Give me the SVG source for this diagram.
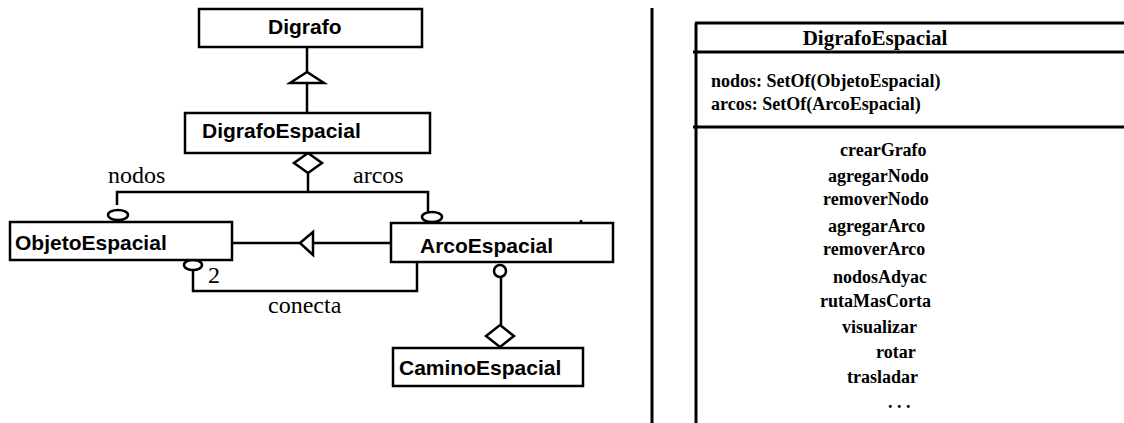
<svg xmlns="http://www.w3.org/2000/svg" width="1124" height="423" viewBox="0 0 1124 423">
  <style>
    .box { fill: #fff; stroke: #000; stroke-width: 2.5; }
    .cls { font-family: "Liberation Sans", Arial, sans-serif; font-weight: bold; font-size: 21px; fill: #000; }
    .lbl { font-family: "Liberation Serif", "Times New Roman", serif; font-size: 24px; fill: #000; }
    .ln { fill: none; stroke: #000; stroke-width: 2.5; }
    .hollow { fill: #fff; stroke: #000; stroke-width: 2.5; }
    .ser { font-family: "Liberation Serif", "Times New Roman", serif; font-weight: bold; fill: #000; }
    .sep { stroke: #000; stroke-width: 3; }
  </style>

  <rect width="1124" height="423" fill="#fff"/>

  <!-- connectors -->
  <g id="connectors">
    <!-- Digrafo <- DigrafoEspacial (generalization) -->
    <line class="ln" x1="307" y1="47" x2="307" y2="113"/>
    <polygon class="hollow" points="307,72 290,83 324,83"/>

    <!-- DigrafoEspacial aggregation to nodos / arcos -->
    <line class="ln" x1="308" y1="173" x2="308" y2="192"/>
    <polyline class="ln" points="117,205 117,192 428,192 428,212"/>
    <polygon class="hollow" points="308,153 322,163 308,173 294,163"/>
    <ellipse class="hollow" cx="118" cy="215" rx="10" ry="5"/>
    <ellipse class="hollow" cx="432" cy="217" rx="10" ry="5"/>

    <!-- ArcoEspacial -> ObjetoEspacial (generalization) -->
    <line class="ln" x1="232" y1="243" x2="391" y2="243"/>
    <polygon class="hollow" points="300,243 313,232 313,255"/>

    <!-- conecta association -->
    <polyline class="ln" points="193,270 193,291 417,291 417,263"/>
    <ellipse class="hollow" cx="193" cy="265" rx="9" ry="5"/>

    <!-- ArcoEspacial - CaminoEspacial aggregation -->
    <line class="ln" x1="501" y1="276" x2="501" y2="325"/>
    <ellipse class="hollow" cx="500" cy="271" rx="6" ry="6"/>
    <polygon class="hollow" points="500,325 514,336 500,347 486,336"/>

    <text class="lbl" x="108" y="183">nodos</text>
    <text class="lbl" x="353" y="183">arcos</text>
    <text class="lbl" x="208" y="283">2</text>
    <text class="lbl" x="268" y="313">conecta</text>
  </g>

  <g id="digrafo">
    <rect class="box" x="199" y="9" width="223" height="38"/>
    <text class="cls" x="268" y="34">Digrafo</text>
  </g>

  <g id="digrafo-espacial">
    <rect class="box" x="185" y="113" width="245" height="40"/>
    <text class="cls" x="202" y="138">DigrafoEspacial</text>
  </g>

  <g id="objeto-espacial">
    <rect class="box" x="10" y="222" width="222" height="38"/>
    <text class="cls" x="15" y="250">ObjetoEspacial</text>
  </g>

  <g id="arco-espacial">
    <rect class="box" x="391" y="223" width="222" height="39"/>
    <line class="ln" x1="581" y1="220" x2="581" y2="223"/>
    <text class="cls" x="420" y="253">ArcoEspacial</text>
  </g>

  <g id="camino-espacial">
    <rect class="box" x="393" y="348" width="190" height="38"/>
    <text class="cls" x="399" y="375">CaminoEspacial</text>
  </g>

  <!-- divider between the two views -->
  <line class="sep" x1="652" y1="8" x2="652" y2="423"/>

  <!-- class detail: DigrafoEspacial -->
  <g id="digrafo-espacial-detail">
    <line class="sep" x1="696" y1="23" x2="696" y2="423"/>
    <line class="sep" x1="695" y1="23" x2="1124" y2="23"/>
    <line class="sep" x1="693" y1="52" x2="1124" y2="52"/>
    <line class="sep" x1="693" y1="127" x2="1124" y2="127"/>

    <text class="ser" x="875" y="45" font-size="21" text-anchor="middle">DigrafoEspacial</text>

    <text class="ser" x="711" y="87" font-size="18">nodos: SetOf(ObjetoEspacial)</text>
    <text class="ser" x="711" y="110" font-size="18">arcos: SetOf(ArcoEspacial)</text>

    <g font-size="18">
      <text class="ser" x="840" y="156">crearGrafo</text>
      <text class="ser" x="828" y="182">agregarNodo</text>
      <text class="ser" x="823" y="205">removerNodo</text>
      <text class="ser" x="828" y="232">agregarArco</text>
      <text class="ser" x="823" y="255">removerArco</text>
      <text class="ser" x="833" y="283">nodosAdyac</text>
      <text class="ser" x="820" y="307">rutaMasCorta</text>
      <text class="ser" x="842" y="333">visualizar</text>
      <text class="ser" x="876" y="358">rotar</text>
      <text class="ser" x="847" y="383">trasladar</text>
      <text class="ser" x="888" y="408">. . .</text>
    </g>
  </g>
</svg>
